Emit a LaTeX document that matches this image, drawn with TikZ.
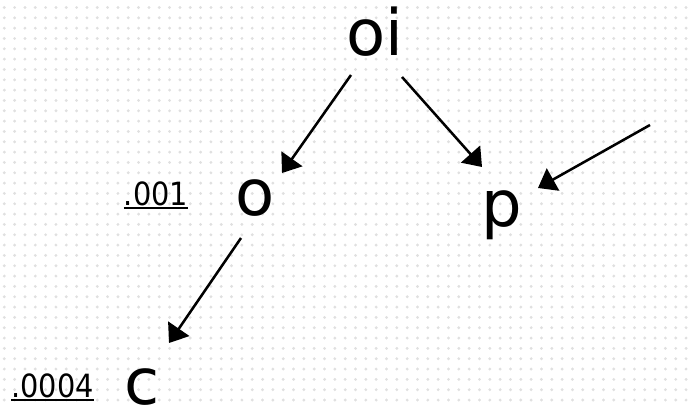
\documentclass[tikz,border=0pt]{standalone}
\usepackage{fontspec}
\setmainfont{DejaVu Sans}
\newfontfamily\probfont{DejaVu Sans Condensed}
\usetikzlibrary{arrows.meta}
\newcommand{\probul}[1]{\setbox0\hbox{#1}\rlap{\rule[-3pt]{\wd0}{1.4pt}}\box0}

\begin{document}
\begin{tikzpicture}[x=0.75pt, y=-0.75pt,
		letter/.style={font=\fontsize{48}{48}\selectfont, anchor=base, inner sep=0pt},
		problabel/.style={font=\probfont\fontsize{24}{24}\selectfont, anchor=base, inner sep=0pt},
		arr/.style={line width=1.9pt, -{Triangle[length=13pt, width=19pt]}},
		griddot/.style={fill=black!12}]
			%%%%% START %%%%%
			
			\useasboundingbox (0, 0) rectangle (690, 410);
			
			% dotted background
			\foreach \i in {0,...,66}
				\foreach \j in {0,...,38}
					\fill[griddot] ({4.3+10.33*\i}, {7.5+10.33*\j}) circle (1.2pt);
			
			\node[letter] (oi) at (375, 56) {oi};
			\node[letter] (o) at (255, 215) {o};
			\node[letter] (p) at (501.5, 226) {p};
			\node[letter] (c) at (142, 404.5) {c};
			
			\node[problabel] (po) at (156, 205) {\probul{.001}};
			\node[problabel] (pc) at (52.5, 397) {\probul{.0004}};
			
			\coordinate (oi-l) at (351, 75);
			\coordinate (oi-r) at (402, 77);
			\coordinate (o-in) at (282, 173);
			\coordinate (o-out) at (241, 238);
			\coordinate (p-in) at (482, 167);
			\coordinate (p-side) at (538, 188);
			\coordinate (far) at (650, 125);
			\coordinate (c-in) at (169, 343);
			
			\draw[arr] (oi-l) -- (o-in);
			\draw[arr] (oi-r) -- (p-in);
			\draw[arr] (far) -- (p-side);
			\draw[arr] (o-out) -- (c-in);
			
			%%%%% END %%%%%
		\end{tikzpicture}
\end{document}
